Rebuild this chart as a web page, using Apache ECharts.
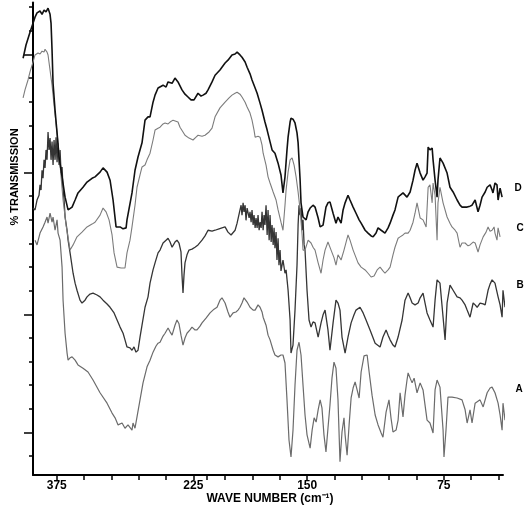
<!DOCTYPE html>
<html>
<head>
<meta charset="utf-8">
<script src="https://cdn.jsdelivr.net/npm/echarts@6/dist/echarts.min.js"></script>
<style>html,body{margin:0;padding:0;background:#fff;}#c{width:527px;height:512px;}</style>
</head>
<body>
<div id="c"></div>
<script>
// [wave number (cm-1), % transmission (arbitrary offset scale 0-100)]
const traceD = [[412.0,88.2],[408.8,91.0],[404.4,93.7],[401.1,95.6],[398.9,96.9],[396.7,97.8],[393.4,98.2],[391.2,97.5],[389.0,98.4],[386.8,98.0],[384.6,98.8],[382.4,97.5],[381.3,95.6],[380.2,89.9],[379.1,82.9],[376.9,77.2],[374.7,72.4],[372.5,67.3],[369.2,63.1],[365.9,58.8],[362.6,56.1],[358.2,56.7],[354.9,58.2],[351.7,59.7],[346.2,60.9],[341.8,62.0],[336.3,62.8],[333.0,63.1],[327.5,64.1],[324.2,65.0],[319.8,64.1],[316.5,62.4],[313.2,58.2],[309.9,52.5],[305.5,52.5],[302.2,52.1],[298.9,52.3],[297.9,54.0],[292.4,59.7],[289.1,64.5],[285.8,67.3],[281.4,70.3],[278.1,75.1],[274.8,75.8],[272.6,75.8],[269.3,78.9],[267.1,80.4],[263.8,81.9],[258.3,82.5],[255.0,82.1],[252.8,83.2],[248.4,82.9],[245.2,84.0],[241.9,83.2],[237.5,81.5],[234.2,80.6],[230.9,80.0],[227.6,79.4],[224.3,79.4],[219.9,80.8],[216.6,80.2],[214.4,80.4],[211.1,80.8],[208.9,81.5],[204.5,83.2],[201.2,84.6],[197.9,85.7],[195.1,87.2],[193.5,87.8],[191.3,88.9],[189.6,89.1],[188.5,89.5],[186.9,88.9],[185.8,88.4],[184.1,87.4],[183.0,86.3],[181.4,84.9],[180.3,83.6],[178.6,81.9],[177.5,80.8],[175.9,78.7],[174.8,77.2],[173.2,74.7],[172.0,73.0],[170.4,70.5],[169.3,68.8],[167.7,68.1],[166.0,66.0],[164.4,63.5],[163.3,59.7],[162.2,63.1],[161.1,68.8],[160.5,71.5],[159.4,74.7],[158.9,75.5],[157.8,75.3],[156.7,74.5],[155.6,72.4],[155.0,70.3],[153.9,62.4],[153.4,57.6],[152.3,54.6],[150.6,54.0],[149.5,55.7],[148.4,56.5],[146.8,57.1],[145.7,56.7],[144.0,54.4],[142.9,52.5],[141.3,52.9],[139.7,56.7],[138.6,57.6],[137.5,57.8],[135.8,55.4],[134.2,53.3],[133.1,54.6],[131.4,53.3],[130.3,56.1],[129.2,57.6],[127.6,59.2],[126.5,58.2],[124.8,56.7],[123.2,55.4],[121.5,54.0],[120.4,53.3],[118.2,51.8],[116.6,51.2],[114.9,50.6],[113.8,50.4],[112.2,51.2],[111.1,52.3],[109.4,51.8],[107.3,51.2],[105.6,52.3],[104.5,53.3],[102.9,55.0],[101.8,56.1],[100.1,58.8],[99.0,59.2],[97.4,59.7],[95.2,58.8],[93.5,59.9],[91.9,62.4],[90.8,64.5],[89.7,66.0],[88.0,63.9],[86.4,62.4],[85.3,63.1],[84.2,63.9],[83.6,69.4],[82.6,68.8],[81.4,69.2],[80.9,66.7],[79.8,62.4],[78.7,58.8],[78.2,62.4],[77.1,67.1],[75.4,66.0],[73.2,63.9],[71.6,60.9],[69.9,59.9],[67.7,58.2],[66.1,57.1],[65.0,56.7],[63.3,56.7],[62.2,56.7],[60.6,56.9],[59.5,57.1],[57.8,58.2],[56.2,55.7],[55.1,57.1],[54.0,58.8],[52.3,59.9],[51.2,60.9],[49.6,61.4],[48.5,60.3],[48.0,59.7],[46.9,61.8],[45.8,61.4],[45.2,58.2],[44.1,60.7],[43.0,58.8]];

const traceC = [[412.0,79.8],[409.9,81.5],[406.6,83.6],[404.4,85.3],[401.1,87.4],[398.9,88.9],[395.6,89.3],[393.4,89.1],[391.2,89.7],[389.0,89.5],[387.9,90.1],[385.7,89.5],[384.6,88.9],[382.4,85.7],[380.2,82.5],[378.0,78.3],[374.7,72.4],[371.4,65.6],[368.1,58.2],[364.8,52.9],[360.4,47.6],[357.1,48.7],[352.8,50.4],[347.3,51.4],[341.8,52.5],[336.3,53.1],[333.0,53.5],[327.5,55.0],[324.2,56.5],[320.9,55.7],[317.6,54.0],[314.3,50.8],[312.1,47.0],[308.8,44.0],[304.4,43.8],[300.1,43.8],[297.9,47.0],[294.6,49.7],[292.4,52.5],[289.1,57.1],[286.9,60.9],[283.6,63.5],[281.4,65.2],[278.1,65.6],[275.9,66.7],[272.6,68.1],[269.3,70.9],[267.1,73.0],[263.8,73.4],[261.6,73.6],[258.3,74.3],[256.1,74.5],[252.8,74.3],[250.6,74.7],[247.3,75.1],[245.2,75.5],[241.9,74.7],[239.7,73.6],[236.4,72.6],[234.2,71.9],[229.8,71.3],[225.4,70.9],[222.1,71.5],[219.9,71.9],[215.5,71.7],[212.2,71.9],[207.8,72.6],[204.5,73.4],[201.2,75.8],[197.9,77.7],[195.1,78.9],[192.9,79.8],[191.3,80.4],[189.6,80.8],[188.5,81.0],[186.9,80.6],[185.8,80.0],[184.1,78.9],[183.0,77.9],[181.4,76.6],[180.3,75.1],[179.2,73.0],[178.6,71.5],[177.0,71.7],[175.9,71.5],[174.8,69.8],[174.2,68.1],[172.6,65.6],[171.5,63.1],[170.4,61.8],[168.7,59.9],[167.1,58.2],[166.0,56.1],[164.4,53.5],[163.3,51.8],[162.2,57.1],[161.6,60.3],[160.5,64.1],[159.4,66.7],[158.3,67.1],[157.2,65.6],[156.1,63.1],[155.0,59.9],[153.9,56.1],[152.8,50.8],[152.3,47.6],[151.2,47.6],[149.5,49.7],[147.9,49.1],[146.8,48.2],[145.7,47.6],[144.0,44.9],[142.4,42.7],[141.3,45.5],[140.2,47.6],[138.6,49.3],[136.9,47.6],[135.3,46.0],[134.2,44.4],[133.1,46.6],[131.4,45.5],[129.8,47.6],[127.6,50.8],[126.5,49.7],[124.8,47.6],[123.2,46.0],[122.1,44.9],[120.4,44.0],[118.2,43.4],[116.6,42.7],[114.9,41.9],[113.3,42.1],[111.6,43.4],[110.0,44.0],[108.4,43.2],[107.3,42.7],[105.6,43.4],[104.5,44.0],[102.9,46.6],[101.8,48.2],[100.1,50.1],[99.0,50.4],[97.4,50.8],[96.3,51.2],[94.6,51.2],[93.5,51.8],[91.9,53.5],[90.8,55.4],[89.7,57.6],[88.0,54.4],[86.4,54.0],[84.7,52.5],[83.6,60.9],[82.6,61.4],[81.4,57.6],[80.9,61.8],[79.8,59.2],[78.7,49.7],[78.2,57.6],[77.1,60.9],[75.4,57.6],[73.2,54.6],[71.6,53.3],[70.5,52.5],[68.8,51.8],[67.7,51.2],[66.1,48.2],[65.0,49.1],[63.3,49.1],[61.7,48.5],[60.6,48.7],[58.9,49.3],[57.8,49.1],[56.2,47.2],[55.1,48.7],[53.4,50.4],[51.8,51.4],[50.7,52.5],[49.6,51.6],[48.5,51.8],[47.4,52.5],[46.9,51.2],[45.8,49.7],[45.2,52.3],[44.1,50.4]];

const traceB = [[401.1,56.5],[398.9,56.1],[396.7,58.2],[394.5,59.2],[393.4,61.4],[392.3,60.3],[391.2,64.5],[390.1,62.8],[389.0,66.7],[387.9,65.0],[386.8,68.8],[385.7,66.7],[384.6,72.6],[383.5,68.8],[382.4,71.3],[381.3,66.7],[380.2,70.6],[379.1,65.6],[378.0,70.9],[376.9,66.7],[375.8,71.5],[374.7,66.2],[373.6,70.2],[372.5,65.6],[371.4,68.8],[370.3,63.9],[369.2,65.2],[368.1,60.3],[367.0,58.2],[365.9,54.6],[363.7,51.8],[362.6,49.7],[360.4,47.0],[357.1,42.7],[354.9,40.6],[352.8,39.1],[349.5,37.0],[347.3,36.4],[344.0,37.0],[341.8,37.7],[338.5,38.3],[335.2,38.5],[330.8,38.1],[327.5,37.7],[324.2,37.0],[319.8,36.2],[316.5,35.5],[312.1,34.3],[308.8,32.8],[305.5,31.3],[302.2,30.0],[300.1,28.6],[297.9,27.1],[294.6,26.9],[292.4,26.4],[290.2,27.1],[288.0,26.0],[285.8,26.4],[283.6,29.2],[281.4,31.7],[278.1,35.5],[274.8,37.7],[272.6,40.6],[269.3,43.4],[267.1,44.9],[263.8,47.0],[261.6,47.6],[258.3,49.1],[255.0,49.7],[252.8,50.1],[250.6,49.3],[248.4,48.2],[245.2,49.3],[243.0,49.7],[240.8,49.1],[238.6,47.2],[237.5,42.3],[236.4,38.5],[235.3,42.3],[234.2,44.9],[232.0,46.6],[229.8,47.6],[226.5,47.8],[223.2,48.2],[219.9,48.7],[215.5,49.7],[212.2,50.6],[208.9,51.8],[204.5,51.6],[201.2,51.8],[198.4,52.1],[196.8,52.3],[195.1,52.5],[193.5,51.4],[191.8,50.8],[189.6,51.8],[188.5,53.3],[186.9,56.1],[186.3,57.1],[185.8,55.0],[185.2,57.6],[184.7,55.7],[184.1,57.1],[183.6,53.9],[183.0,56.5],[182.5,56.1],[181.9,54.4],[181.4,55.7],[180.8,53.5],[180.3,56.1],[179.7,52.9],[179.2,55.0],[178.6,52.3],[178.1,54.4],[177.5,52.3],[177.0,55.0],[176.4,51.8],[175.9,53.5],[175.3,52.3],[174.8,55.7],[174.2,51.8],[173.7,55.0],[173.2,52.9],[172.6,57.1],[172.0,50.8],[171.5,56.1],[170.9,49.7],[170.4,55.0],[169.8,49.3],[169.3,52.9],[168.7,48.7],[168.2,52.3],[167.7,48.0],[167.1,51.4],[166.6,45.5],[166.0,50.1],[165.5,44.4],[164.9,47.6],[164.4,43.2],[163.3,45.5],[162.2,42.7],[161.6,43.4],[160.5,39.1],[159.4,32.8],[158.9,25.8],[157.8,27.5],[156.7,34.9],[155.6,44.4],[155.0,52.9],[154.5,57.1],[153.9,55.0],[153.4,56.5],[152.8,51.8],[152.3,54.0],[151.7,48.7],[151.2,47.6],[150.1,39.1],[149.0,32.8],[147.9,31.3],[146.8,32.4],[145.7,32.2],[144.0,29.2],[142.4,32.2],[141.3,33.9],[140.2,34.9],[138.6,30.7],[137.5,26.4],[135.8,32.2],[134.2,37.0],[133.1,36.4],[132.0,34.9],[130.9,29.2],[129.2,25.8],[127.6,29.2],[125.9,32.2],[124.3,33.9],[123.2,34.9],[121.0,35.5],[119.3,34.3],[117.7,32.8],[115.5,30.7],[112.7,27.9],[110.0,27.1],[108.4,29.2],[106.7,30.7],[105.6,29.6],[104.5,28.6],[102.9,27.5],[101.8,27.1],[100.1,29.2],[97.9,32.8],[96.3,37.0],[94.6,38.5],[93.5,37.5],[92.4,36.4],[90.8,36.0],[89.1,36.4],[88.0,37.5],[86.4,38.5],[85.3,36.4],[84.2,34.3],[82.6,32.8],[80.9,31.3],[79.8,37.0],[78.7,41.3],[77.1,40.6],[75.4,33.4],[74.3,28.6],[73.2,36.4],[71.6,40.2],[69.9,39.1],[67.7,37.7],[66.1,37.5],[65.0,37.0],[63.3,36.0],[62.2,34.9],[60.6,33.4],[58.9,36.4],[57.8,36.0],[56.7,35.5],[55.1,36.4],[53.4,36.2],[52.3,36.0],[50.7,39.1],[49.6,40.4],[48.5,41.3],[46.9,40.6],[45.2,37.7],[44.1,36.0],[43.0,33.4],[42.5,39.1],[41.4,35.5],[40.3,39.8],[39.7,36.4]];

const traceA = [[398.9,49.7],[396.7,48.7],[393.4,51.2],[390.1,52.5],[387.9,53.5],[385.7,54.6],[384.6,53.3],[382.4,55.4],[380.2,53.5],[379.1,54.6],[376.9,51.8],[374.7,54.0],[373.6,51.2],[371.4,49.7],[369.2,44.0],[368.1,37.0],[365.9,30.0],[363.7,25.8],[362.6,24.3],[360.4,24.8],[358.2,25.0],[354.9,24.3],[351.7,23.3],[346.2,22.6],[340.7,21.8],[335.2,20.1],[327.5,17.4],[319.8,15.2],[314.3,13.1],[311.0,12.1],[307.7,10.6],[303.3,11.0],[300.1,9.9],[296.8,10.6],[292.4,9.5],[291.3,11.0],[289.1,9.9],[286.9,12.3],[283.6,15.9],[280.3,19.5],[275.9,22.9],[272.6,24.3],[269.3,26.0],[266.0,27.3],[263.8,27.9],[261.6,28.1],[258.3,29.4],[256.1,30.0],[252.8,31.1],[250.6,30.3],[248.4,29.6],[245.2,31.7],[243.0,32.8],[240.8,32.0],[238.6,29.6],[236.4,27.5],[234.2,29.0],[232.0,30.0],[228.7,30.7],[226.5,31.3],[223.2,30.7],[221.0,30.7],[217.7,31.5],[215.5,32.2],[211.1,33.2],[206.7,34.3],[202.3,35.1],[199.5,35.5],[197.9,37.0],[196.8,37.5],[195.1,36.4],[193.5,34.5],[192.4,33.4],[190.7,34.3],[189.1,34.5],[188.0,34.9],[186.9,35.5],[185.8,36.4],[184.7,37.5],[184.1,37.7],[183.0,36.6],[181.4,35.5],[179.7,34.9],[178.6,34.9],[177.0,36.0],[175.9,35.5],[174.8,34.5],[174.2,33.4],[172.6,31.7],[171.5,29.6],[170.4,28.6],[168.7,26.4],[167.7,25.4],[166.0,25.0],[164.4,25.4],[163.3,25.4],[162.2,23.7],[161.1,15.9],[160.0,7.4],[158.9,3.8],[157.8,9.5],[156.7,19.0],[155.6,26.4],[154.5,28.1],[153.4,25.4],[152.3,19.0],[151.2,12.7],[150.1,8.5],[148.4,5.7],[147.3,9.5],[146.2,12.1],[145.1,11.2],[144.0,13.8],[142.9,15.9],[141.9,14.2],[140.8,8.5],[139.7,4.9],[138.6,9.9],[137.5,14.8],[136.4,20.5],[135.3,23.9],[134.2,22.6],[133.1,15.9],[132.0,2.8],[130.9,9.1],[129.8,12.1],[129.2,8.5],[128.1,4.2],[127.0,10.6],[125.9,16.3],[124.8,18.4],[123.7,19.7],[122.6,18.0],[121.5,16.3],[120.4,21.8],[118.8,25.2],[117.1,25.4],[116.0,21.8],[114.4,16.9],[112.7,12.7],[111.1,10.6],[109.4,8.9],[108.4,8.0],[106.7,13.3],[105.1,15.9],[104.0,12.1],[102.9,9.1],[101.2,9.5],[100.1,11.6],[99.0,17.4],[97.4,12.3],[96.3,16.9],[95.2,20.1],[94.6,21.6],[93.5,20.5],[92.4,19.5],[91.3,20.5],[89.7,17.4],[88.0,19.5],[86.4,18.0],[85.3,14.8],[84.2,11.6],[82.6,11.0],[80.9,8.9],[79.8,18.0],[78.7,20.1],[77.1,18.6],[75.4,9.5],[74.9,3.8],[73.8,9.5],[72.7,16.5],[70.5,16.5],[67.7,16.3],[65.0,15.9],[63.3,13.8],[62.2,11.0],[60.6,13.8],[59.5,11.0],[57.8,15.2],[55.1,15.9],[53.4,14.4],[51.2,17.4],[49.6,18.4],[48.5,18.6],[46.9,17.4],[45.2,15.2],[44.1,12.7],[43.0,9.5],[42.5,15.2],[41.4,11.6],[40.3,16.5],[39.7,13.1]];

// axis ticks / labels (wave numbers)
const xTickWaves = [375,345,315,285,255,225,210,195,180,165,150,135,120,105,90,75,60,45];
const xLabelWaves = [375,225,150,75];
const yMinorTicks = [4,9,14,19,24,29,34,39,44,49,54,59,64,69,74,79,84,89,94,99];
const yMajorTicks = [9,34,64,89];
const traceNames = ['D','C','B','A'];

// Spectrometer abscissa: scale doubles below 200 cm-1
const BREAK = 200;
function toAxis(w){ return w > BREAK ? BREAK + (w - BREAK) / 2 : w; }
function fromAxis(u){ return u > BREAK ? BREAK + (u - BREAK) * 2 : u; }

const FONT = '"Liberation Sans", Arial, sans-serif';
const chart = echarts.init(document.getElementById('c'), null, {renderer:'canvas'});

function mk(data, color, width){
  return {type:'line', xAxisIndex:0, yAxisIndex:0, data:data.map(p=>[toAxis(p[0]), p[1]]), showSymbol:false, symbol:'none',
    clip:false, silent:true, animation:false, lineStyle:{color:color, width:width}};
}
const hidden = {axisLine:{show:false}, axisTick:{show:false}, axisLabel:{show:false}, splitLine:{show:false}};

chart.setOption({
  backgroundColor:'#ffffff',
  animation:false,
  grid:[
    {left:23, right:24, top:2.5, bottom:37, containLabel:false},
    {left:33, right:24, top:2.5, bottom:37, containLabel:false}
  ],
  xAxis:[
    Object.assign({type:'value', gridIndex:0, inverse:true, min:42.5, max:toAxis(412.1)}, hidden),
    {type:'value', gridIndex:1, inverse:true, min:42.5, max:toAxis(401.1),
      axisLine:{show:true, lineStyle:{color:'#000', width:2}},
      axisTick:{show:true, length:5, customValues:xTickWaves.map(toAxis), lineStyle:{color:'#000', width:1.5}},
      axisLabel:{show:true, customValues:xLabelWaves.map(toAxis), formatter:function(v){return String(Math.round(fromAxis(v)));},
        color:'#000', fontSize:12, fontWeight:'bold', fontFamily:FONT, margin:5},
      splitLine:{show:false}}
  ],
  yAxis:[
    Object.assign({type:'value', gridIndex:0, min:0, max:100}, hidden),
    {type:'value', gridIndex:1, min:0, max:100, position:'left',
      axisLine:{show:true, lineStyle:{color:'#000', width:2}},
      axisTick:{show:true, length:4, customValues:yMinorTicks, lineStyle:{color:'#000', width:1.5}},
      axisLabel:{show:false}, splitLine:{show:false}},
    {type:'value', gridIndex:1, min:0, max:100, position:'left',
      axisLine:{show:false},
      axisTick:{show:true, length:9, customValues:yMajorTicks, lineStyle:{color:'#000', width:1.5}},
      axisLabel:{show:false}, splitLine:{show:false}}
  ],
  series:[
    mk(traceA, '#6b6b6b', 1.2),
    mk(traceB, '#353535', 1.3),
    mk(traceC, '#7c7c7c', 1.1),
    mk(traceD, '#111111', 1.6)
  ],
  graphic:[
    {type:'text', x:15, y:177, rotation:Math.PI/2, style:{text:'% TRANSMISSION', font:'bold 11px '+FONT, fill:'#000', textAlign:'center', textVerticalAlign:'middle'}},
    {type:'text', x:270, y:499, style:{text:'WAVE NUMBER (cm\u207B\u00B9)', font:'bold 12px '+FONT, fill:'#000', textAlign:'center', textVerticalAlign:'middle'}},
    {type:'text', x:518, y:188, style:{text:traceNames[0], font:'bold 10px '+FONT, fill:'#000', textAlign:'center', textVerticalAlign:'middle'}},
    {type:'text', x:520, y:228, style:{text:traceNames[1], font:'bold 10px '+FONT, fill:'#000', textAlign:'center', textVerticalAlign:'middle'}},
    {type:'text', x:520, y:285, style:{text:traceNames[2], font:'bold 10px '+FONT, fill:'#000', textAlign:'center', textVerticalAlign:'middle'}},
    {type:'text', x:519, y:389, style:{text:traceNames[3], font:'bold 10px '+FONT, fill:'#000', textAlign:'center', textVerticalAlign:'middle'}}
  ]
});
</script>
</body>
</html>
